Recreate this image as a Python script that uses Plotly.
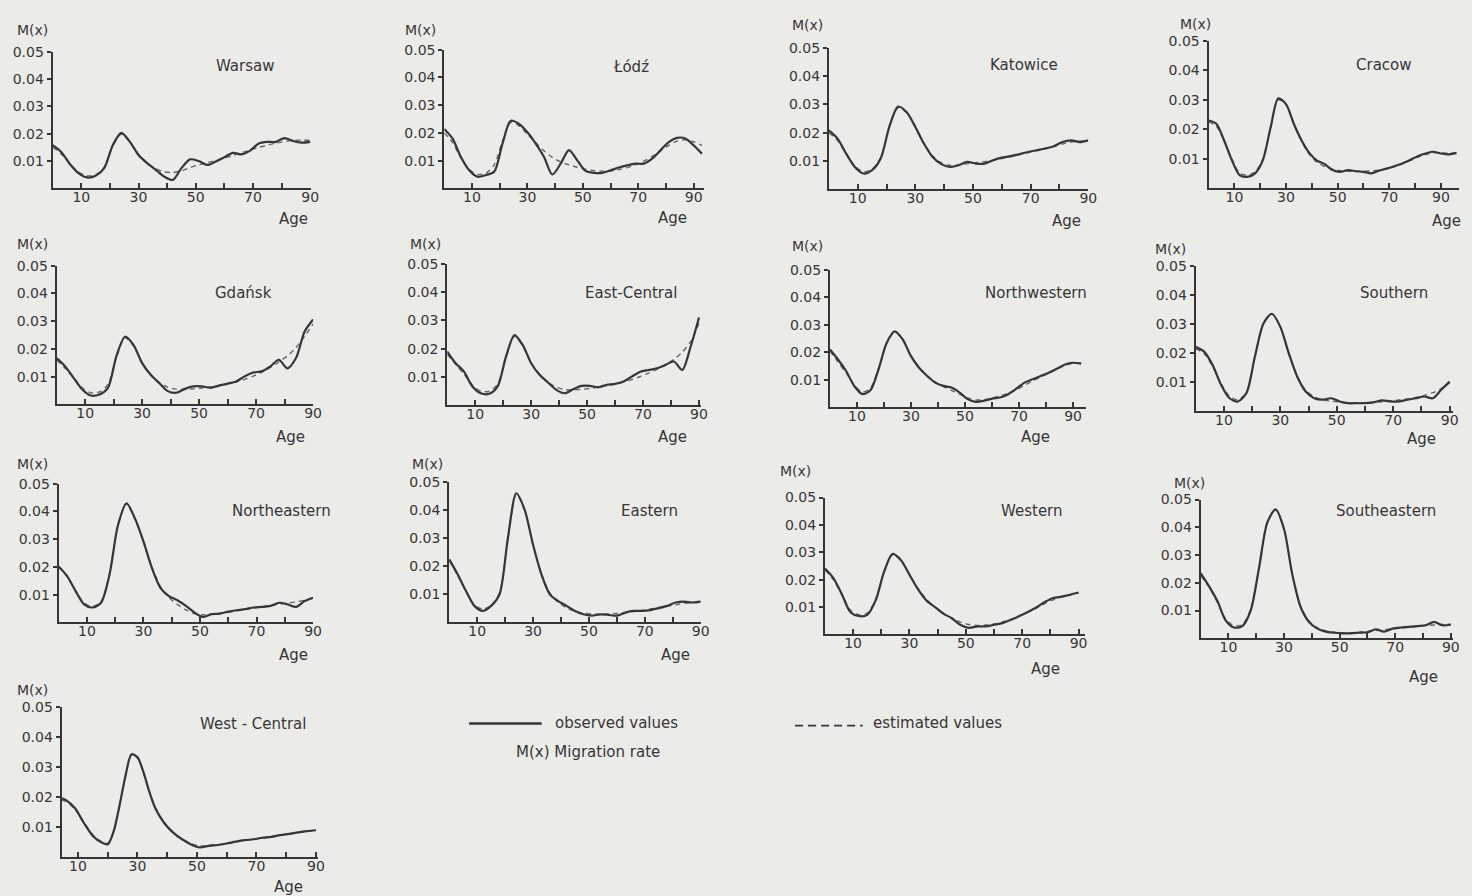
import plotly.graph_objects as go

W, H = 1472, 896
INK = "#363636"
DASH_INK = "#666666"
PAPER = "#ebebe8"
FONT = "DejaVu Sans"

# ---------------- data (ages in years, M(x) migration rates) ----------------
AGES = [0, 3, 6, 9, 12, 15, 18, 21, 24, 27, 30, 33, 36, 39, 42, 45, 48, 51, 54,
        57, 60, 63, 66, 69, 72, 75, 78, 81, 84, 87, 90]
AGES_93 = AGES + [93]
AGES_96 = AGES + [93, 96]
WEST_CENTRAL_AGES = [4.5, 6, 9, 12, 15, 18, 20, 22, 24, 26, 28, 30, 32, 34, 36, 39, 42,
                     45, 48, 51, 54, 57, 60, 63, 66, 69, 72, 75, 78, 81, 84, 87, 90]

WARSAW_OBS = [0.0158, 0.0133, 0.0089, 0.0056, 0.0040, 0.0046, 0.0074, 0.0158, 0.0203, 0.0170, 0.0122,
              0.0092, 0.0068, 0.0043, 0.0031, 0.0074, 0.0106, 0.0100, 0.0086, 0.0098, 0.0114, 0.0130,
              0.0124, 0.0138, 0.0164, 0.0170, 0.0170, 0.0184, 0.0173, 0.0167, 0.0170]
WARSAW_EST = [0.0150, 0.0126, 0.0090, 0.0060, 0.0046, 0.0050, 0.0078, 0.0155, 0.0198, 0.0168, 0.0124,
              0.0094, 0.0072, 0.0060, 0.0058, 0.0064, 0.0076, 0.0086, 0.0094, 0.0102, 0.0111, 0.0120,
              0.0130, 0.0140, 0.0150, 0.0158, 0.0165, 0.0171, 0.0175, 0.0176, 0.0176]

LODZ_OBS = [0.0214, 0.0179, 0.0113, 0.0065, 0.0042, 0.0048, 0.0060, 0.0161, 0.0244, 0.0232, 0.0202,
            0.0161, 0.0113, 0.0050, 0.0089, 0.0138, 0.0101, 0.0063, 0.0056, 0.0056, 0.0065, 0.0075,
            0.0083, 0.0089, 0.0089, 0.0107, 0.0137, 0.0167, 0.0182, 0.0180, 0.0155, 0.0125]
LODZ_EST = [0.0200, 0.0165, 0.0110, 0.0068, 0.0050, 0.0055, 0.0085, 0.0170, 0.0238, 0.0225, 0.0195,
            0.0165, 0.0135, 0.0112, 0.0095, 0.0085, 0.0076, 0.0069, 0.0064, 0.0062, 0.0063, 0.0068,
            0.0075, 0.0085, 0.0098, 0.0115, 0.0135, 0.0155, 0.0170, 0.0175, 0.0168, 0.0155]

KATOWICE_OBS = [0.0208, 0.0179, 0.0126, 0.0079, 0.0056, 0.0068, 0.0110, 0.0222, 0.0292, 0.0272, 0.0220,
                0.0161, 0.0114, 0.0089, 0.0079, 0.0085, 0.0097, 0.0091, 0.0091, 0.0103, 0.0112, 0.0117,
                0.0124, 0.0132, 0.0138, 0.0144, 0.0152, 0.0167, 0.0173, 0.0167, 0.0173]
KATOWICE_EST = [0.0200, 0.0172, 0.0125, 0.0082, 0.0062, 0.0072, 0.0112, 0.0222, 0.0288, 0.0270, 0.0220,
                0.0162, 0.0118, 0.0094, 0.0085, 0.0086, 0.0090, 0.0094, 0.0098, 0.0103, 0.0109, 0.0115,
                0.0122, 0.0129, 0.0136, 0.0143, 0.0151, 0.0160, 0.0167, 0.0170, 0.0172]

CRACOW_OBS = [0.0230, 0.0219, 0.0163, 0.0096, 0.0045, 0.0039, 0.0051, 0.0095, 0.0205, 0.0305, 0.0285,
              0.0219, 0.0163, 0.0120, 0.0094, 0.0082, 0.0062, 0.0056, 0.0062, 0.0058, 0.0056, 0.0051,
              0.0060, 0.0067, 0.0075, 0.0084, 0.0096, 0.0109, 0.0118, 0.0124, 0.0118, 0.0115, 0.0120]
CRACOW_EST = [0.0225, 0.0210, 0.0162, 0.0100, 0.0052, 0.0045, 0.0056, 0.0098, 0.0203, 0.0300, 0.0283,
              0.0218, 0.0160, 0.0115, 0.0088, 0.0074, 0.0065, 0.0060, 0.0058, 0.0058, 0.0058, 0.0059,
              0.0062, 0.0067, 0.0074, 0.0083, 0.0094, 0.0105, 0.0114, 0.0120, 0.0121, 0.0119, 0.0120]

GDANSK_OBS = [0.0167, 0.0137, 0.0095, 0.0054, 0.0032, 0.0036, 0.0060, 0.0175, 0.0244, 0.0214, 0.0149,
              0.0107, 0.0077, 0.0048, 0.0042, 0.0056, 0.0065, 0.0065, 0.0060, 0.0068, 0.0075, 0.0083,
              0.0101, 0.0115, 0.0119, 0.0137, 0.0161, 0.0130, 0.0167, 0.0262, 0.0306]
GDANSK_EST = [0.0160, 0.0130, 0.0095, 0.0060, 0.0042, 0.0045, 0.0072, 0.0170, 0.0240, 0.0210, 0.0150,
              0.0108, 0.0080, 0.0062, 0.0055, 0.0054, 0.0056, 0.0059, 0.0063, 0.0068, 0.0074, 0.0081,
              0.0090, 0.0102, 0.0116, 0.0133, 0.0153, 0.0175, 0.0205, 0.0245, 0.0290]

EAST_CENTRAL_OBS = [0.0190, 0.0149, 0.0119, 0.0067, 0.0043, 0.0041, 0.0067, 0.0172, 0.0248, 0.0213, 0.0149,
                    0.0108, 0.0081, 0.0055, 0.0043, 0.0057, 0.0069, 0.0069, 0.0064, 0.0073, 0.0076, 0.0084,
                    0.0102, 0.0119, 0.0125, 0.0131, 0.0143, 0.0155, 0.0125, 0.0207, 0.0310]
EAST_CENTRAL_EST = [0.0180, 0.0145, 0.0110, 0.0072, 0.0050, 0.0050, 0.0075, 0.0170, 0.0243, 0.0210, 0.0150,
                    0.0110, 0.0082, 0.0064, 0.0056, 0.0055, 0.0057, 0.0060, 0.0064, 0.0069, 0.0075, 0.0082,
                    0.0091, 0.0102, 0.0114, 0.0127, 0.0143, 0.0162, 0.0188, 0.0225, 0.0290]

NORTHWESTERN_OBS = [0.0210, 0.0174, 0.0132, 0.0078, 0.0048, 0.0062, 0.0138, 0.0234, 0.0276, 0.0246, 0.0186,
                    0.0144, 0.0114, 0.0090, 0.0078, 0.0072, 0.0054, 0.0030, 0.0020, 0.0024, 0.0032, 0.0036,
                    0.0048, 0.0068, 0.0090, 0.0102, 0.0114, 0.0126, 0.0140, 0.0156, 0.0162, 0.0159]
NORTHWESTERN_EST = [0.0205, 0.0165, 0.0125, 0.0082, 0.0055, 0.0070, 0.0140, 0.0232, 0.0275, 0.0245, 0.0188,
                    0.0145, 0.0115, 0.0092, 0.0075, 0.0062, 0.0048, 0.0034, 0.0027, 0.0028, 0.0034, 0.0042,
                    0.0052, 0.0064, 0.0080, 0.0096, 0.0110, 0.0124, 0.0138, 0.0152, 0.0160, 0.0160]

SOUTHERN_OBS = [0.0222, 0.0205, 0.0159, 0.0091, 0.0045, 0.0034, 0.0063, 0.0188, 0.0301, 0.0335, 0.0290,
                0.0199, 0.0119, 0.0068, 0.0045, 0.0040, 0.0045, 0.0034, 0.0028, 0.0028, 0.0028, 0.0031,
                0.0038, 0.0034, 0.0034, 0.0040, 0.0045, 0.0051, 0.0045, 0.0074, 0.0102]
SOUTHERN_EST = [0.0215, 0.0198, 0.0155, 0.0095, 0.0052, 0.0040, 0.0065, 0.0188, 0.0300, 0.0335, 0.0290,
                0.0200, 0.0120, 0.0072, 0.0050, 0.0040, 0.0035, 0.0032, 0.0030, 0.0030, 0.0030, 0.0031,
                0.0033, 0.0036, 0.0039, 0.0043, 0.0048, 0.0055, 0.0064, 0.0078, 0.0098]

NORTHEASTERN_OBS = [0.0202, 0.0167, 0.0113, 0.0065, 0.0054, 0.0071, 0.0173, 0.0351, 0.0429, 0.0375, 0.0292,
                    0.0196, 0.0125, 0.0095, 0.0080, 0.0060, 0.0036, 0.0020, 0.0030, 0.0032, 0.0039, 0.0044,
                    0.0048, 0.0054, 0.0056, 0.0060, 0.0071, 0.0065, 0.0056, 0.0077, 0.0089]
NORTHEASTERN_EST = [0.0200, 0.0165, 0.0115, 0.0070, 0.0058, 0.0075, 0.0175, 0.0350, 0.0428, 0.0372, 0.0290,
                    0.0200, 0.0130, 0.0090, 0.0065, 0.0045, 0.0032, 0.0028, 0.0030, 0.0033, 0.0037, 0.0042,
                    0.0047, 0.0052, 0.0057, 0.0062, 0.0066, 0.0070, 0.0074, 0.0080, 0.0088]

EASTERN_OBS = [0.0224, 0.0171, 0.0112, 0.0059, 0.0041, 0.0059, 0.0100, 0.0300, 0.0459, 0.0400, 0.0276,
               0.0171, 0.0100, 0.0076, 0.0059, 0.0041, 0.0029, 0.0024, 0.0029, 0.0027, 0.0024, 0.0035,
               0.0041, 0.0041, 0.0044, 0.0051, 0.0059, 0.0071, 0.0074, 0.0071, 0.0074]
EASTERN_EST = [0.0220, 0.0168, 0.0110, 0.0062, 0.0048, 0.0060, 0.0105, 0.0295, 0.0455, 0.0398, 0.0275,
               0.0172, 0.0105, 0.0072, 0.0052, 0.0040, 0.0033, 0.0030, 0.0029, 0.0030, 0.0032, 0.0035,
               0.0039, 0.0043, 0.0048, 0.0053, 0.0058, 0.0063, 0.0068, 0.0071, 0.0073]

WESTERN_OBS = [0.0241, 0.0206, 0.0147, 0.0082, 0.0067, 0.0071, 0.0124, 0.0229, 0.0294, 0.0271, 0.0218,
               0.0165, 0.0124, 0.0100, 0.0076, 0.0059, 0.0035, 0.0024, 0.0029, 0.0029, 0.0035, 0.0041,
               0.0053, 0.0067, 0.0082, 0.0098, 0.0118, 0.0133, 0.0138, 0.0145, 0.0153]
WESTERN_EST = [0.0235, 0.0200, 0.0145, 0.0090, 0.0072, 0.0078, 0.0128, 0.0228, 0.0292, 0.0270, 0.0218,
               0.0168, 0.0128, 0.0100, 0.0078, 0.0060, 0.0045, 0.0036, 0.0033, 0.0034, 0.0038, 0.0045,
               0.0055, 0.0067, 0.0081, 0.0096, 0.0112, 0.0126, 0.0136, 0.0144, 0.0152]

SOUTHEASTERN_OBS = [0.0235, 0.0188, 0.0135, 0.0065, 0.0039, 0.0044, 0.0100, 0.0253, 0.0418, 0.0465, 0.0394,
                    0.0229, 0.0112, 0.0059, 0.0035, 0.0024, 0.0020, 0.0018, 0.0018, 0.0020, 0.0022, 0.0032,
                    0.0024, 0.0035, 0.0039, 0.0041, 0.0044, 0.0047, 0.0059, 0.0047, 0.0049]
SOUTHEASTERN_EST = [0.0225, 0.0185, 0.0130, 0.0070, 0.0045, 0.0050, 0.0105, 0.0255, 0.0418, 0.0462, 0.0392,
                    0.0230, 0.0115, 0.0062, 0.0038, 0.0027, 0.0022, 0.0020, 0.0020, 0.0022, 0.0025, 0.0028,
                    0.0031, 0.0034, 0.0037, 0.0040, 0.0043, 0.0046, 0.0048, 0.0050, 0.0051]

WEST_CENTRAL_OBS = [0.0196, 0.0190, 0.0163, 0.0114, 0.0071, 0.0049, 0.0043, 0.0087, 0.0174, 0.0272, 0.0342,
                    0.0332, 0.0283, 0.0217, 0.0163, 0.0114, 0.0082, 0.0060, 0.0043, 0.0033, 0.0038, 0.0041,
                    0.0046, 0.0052, 0.0057, 0.0060, 0.0065, 0.0068, 0.0074, 0.0078, 0.0083, 0.0087, 0.0090]
WEST_CENTRAL_EST = [0.0190, 0.0185, 0.0160, 0.0115, 0.0075, 0.0052, 0.0047, 0.0085, 0.0172, 0.0270, 0.0340,
                    0.0330, 0.0282, 0.0218, 0.0165, 0.0115, 0.0082, 0.0060, 0.0045, 0.0038, 0.0039, 0.0042,
                    0.0046, 0.0051, 0.0056, 0.0060, 0.0064, 0.0068, 0.0073, 0.0078, 0.0082, 0.0086, 0.0090]

REGIONS = ["Warsaw", "Łódź", "Katowice", "Cracow", "Gdańsk", "East-Central", "Northwestern",
           "Southern", "Northeastern", "Eastern", "Western", "Southeastern", "West - Central"]
X_TICKS = [10, 20, 30, 40, 50, 60, 70, 80, 90]
X_TICK_TEXT = ["10", "", "30", "", "50", "", "70", "", "90"]
Y_TICKS = [0.01, 0.02, 0.03, 0.04, 0.05]
Y_TICK_TEXT = ["0.01", "0.02", "0.03", "0.04", "0.05"]

# ---------------- layout of the panels (pixels) ----------------
# (ages, observed, estimated, left, right, top, bottom, x-range, title xy, M(x) xy, Age xy)
PANELS = [
    (AGES, WARSAW_OBS, WARSAW_EST, 53, 313, 44, 182, (0, 90.3), (247, 59), (33, 22), (295, 213)),
    (AGES_93, LODZ_OBS, LODZ_EST, 447, 708, 42, 182, (0, 93.6), (635, 60), (423, 22), (677, 212)),
    (AGES, KATOWICE_OBS, KATOWICE_EST, 834, 1095, 40, 183, (0, 90), (1030, 58), (812, 17), (1073, 215)),
    (AGES_96, CRACOW_OBS, CRACOW_EST, 1216, 1468, 33, 182, (0, 97), (1393, 58), (1203, 16), (1455, 215)),
    (AGES, GDANSK_OBS, GDANSK_EST, 57, 315, 260, 400, (0, 90), (245, 288), (33, 238), (292, 433)),
    (AGES, EAST_CENTRAL_OBS, EAST_CENTRAL_EST, 450, 705, 258, 401, (0, 90.6), (635, 288), (428, 238), (677, 433)),
    (AGES_93, NORTHWESTERN_OBS, NORTHWESTERN_EST, 835, 1093, 264, 403, (0, 94.9), (1042, 288), (812, 240), (1042, 433)),
    (AGES, SOUTHERN_OBS, SOUTHERN_EST, 1203, 1462, 260, 407, (0, 91.2), (1403, 288), (1178, 243), (1430, 435)),
    (AGES, NORTHEASTERN_OBS, NORTHEASTERN_EST, 59, 315, 480, 620, (0, 90), (283, 508), (33, 460), (295, 653)),
    (AGES, EASTERN_OBS, EASTERN_EST, 452, 705, 478, 620, (0, 90), (653, 508), (430, 460), (680, 653)),
    (AGES, WESTERN_OBS, WESTERN_EST, 830, 1092, 494, 632, (0, 92.4), (1038, 508), (800, 467), (1052, 667)),
    (AGES, SOUTHEASTERN_OBS, SOUTHEASTERN_EST, 1208, 1462, 496, 636, (0, 90.8), (1395, 508), (1197, 479), (1432, 675)),
    (WEST_CENTRAL_AGES, WEST_CENTRAL_OBS, WEST_CENTRAL_EST, 62, 320, 705, 857, (4.5, 90.7), (255, 722), (33, 688), (290, 887)),
]


def px(x):
    return x / W


def py(y):
    return 1 - y / H


fig = go.Figure()
annotations = []
layout_axes = {}

for i, (ages, obs, est, L, R, T, B, xr, tpos, mpos, apos) in enumerate(PANELS, start=1):
    xa = "x" if i == 1 else f"x{i}"
    ya = "y" if i == 1 else f"y{i}"
    fig.add_trace(go.Scatter(x=ages, y=est, xaxis=xa, yaxis=ya, mode="lines",
                             line=dict(color=DASH_INK, width=1.4, dash="5px,4px", shape="spline", smoothing=0.8),
                             showlegend=False, hoverinfo="skip"))
    fig.add_trace(go.Scatter(x=ages, y=obs, xaxis=xa, yaxis=ya, mode="lines",
                             line=dict(color=INK, width=2.2, shape="spline", smoothing=0.8),
                             showlegend=False, hoverinfo="skip"))
    xkey = "xaxis" if i == 1 else f"xaxis{i}"
    ykey = "yaxis" if i == 1 else f"yaxis{i}"
    layout_axes[xkey] = dict(domain=[px(L), px(R)], range=list(xr), anchor=ya,
                             showgrid=False, zeroline=False, showline=True, linecolor=INK, linewidth=2,
                             tickmode="array", tickvals=X_TICKS, ticktext=X_TICK_TEXT,
                             ticks="inside", ticklen=5, tickwidth=1.5, tickcolor=INK,
                             ticklabelstandoff=-5,
                             tickfont=dict(family=FONT, size=14, color=INK), fixedrange=True)
    layout_axes[ykey] = dict(domain=[py(B), py(T)], range=[0, 0.05], anchor=xa,
                             showgrid=False, zeroline=False, showline=True, linecolor=INK, linewidth=2,
                             tickmode="array", tickvals=Y_TICKS, ticktext=Y_TICK_TEXT,
                             ticks="outside", ticklen=4, tickwidth=1.5, tickcolor=INK,
                             tickfont=dict(family=FONT, size=14, color=INK), fixedrange=True)
    annotations.append(dict(text=REGIONS[i - 1], x=px(tpos[0]), y=py(tpos[1]), xref="paper", yref="paper",
                            showarrow=False, xanchor="center", yanchor="middle",
                            font=dict(family=FONT, size=15, color=INK)))
    annotations.append(dict(text="M(x)", x=px(mpos[0]), y=py(mpos[1]), xref="paper", yref="paper",
                            showarrow=False, xanchor="center", yanchor="middle",
                            font=dict(family=FONT, size=14, color=INK)))
    annotations.append(dict(text="Age", x=px(apos[0]), y=py(apos[1]), xref="paper", yref="paper",
                            showarrow=False, xanchor="center", yanchor="middle",
                            font=dict(family=FONT, size=15, color=INK)))

# legend block
annotations.append(dict(text="observed values", x=px(556), y=py(721), xref="paper", yref="paper",
                        showarrow=False, xanchor="left", yanchor="middle",
                        font=dict(family=FONT, size=15, color=INK)))
annotations.append(dict(text="M(x) Migration rate", x=px(592), y=py(751), xref="paper", yref="paper",
                        showarrow=False, xanchor="center", yanchor="middle",
                        font=dict(family=FONT, size=15, color=INK)))
annotations.append(dict(text="estimated values", x=px(876), y=py(721), xref="paper", yref="paper",
                        showarrow=False, xanchor="left", yanchor="middle",
                        font=dict(family=FONT, size=15, color=INK)))

shapes = [
    dict(type="line", xref="paper", yref="paper", x0=px(472), x1=px(545), y0=py(722), y1=py(722),
         line=dict(color=INK, width=2.4)),
    dict(type="line", xref="paper", yref="paper", x0=px(800), x1=px(868), y0=py(724), y1=py(724),
         line=dict(color=INK, width=1.8, dash="8px,5px")),
]

fig.update_layout(width=W, height=H, autosize=False,
                  margin=dict(l=0, r=0, t=0, b=0),
                  paper_bgcolor=PAPER, plot_bgcolor="rgba(0,0,0,0)",
                  showlegend=False, annotations=annotations, shapes=shapes,
                  **layout_axes)

fig.write_html("out.html", config={"displayModeBar": False},
               post_script="document.body.style.margin='0';document.body.style.overflow='hidden';"
                           "document.body.style.background='" + PAPER + "';")
